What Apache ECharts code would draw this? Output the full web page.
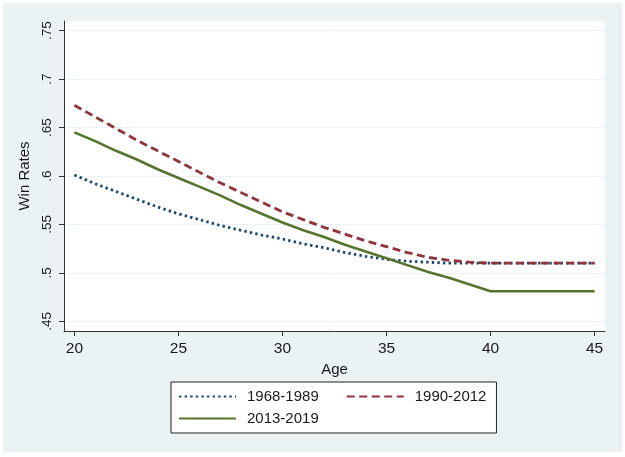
<!DOCTYPE html>
<html>
<head>
<meta charset="utf-8">
<script src="https://cdn.jsdelivr.net/npm/echarts@6/dist/echarts.min.js"></script>
<style>
  html, body { margin: 0; padding: 0; background: #fff; }
  #chart { width: 625px; height: 457px; }
</style>
</head>
<body>
<div id="chart"></div>
<script>
var ages = [20, 21, 22, 23, 24, 25, 26, 27, 28, 29, 30, 31, 32, 33, 34, 35, 36, 37, 38, 39, 40, 41, 42, 43, 44, 45];
var rates6889 = [0.601, 0.592, 0.584, 0.576, 0.568, 0.561, 0.555, 0.549, 0.544, 0.539, 0.535, 0.530, 0.526, 0.521, 0.517, 0.514, 0.512, 0.511, 0.510, 0.510, 0.510, 0.510, 0.510, 0.510, 0.510, 0.510];
var rates9012 = [0.673, 0.661, 0.649, 0.637, 0.626, 0.615, 0.604, 0.593, 0.583, 0.573, 0.563, 0.555, 0.547, 0.540, 0.533, 0.527, 0.521, 0.516, 0.513, 0.511, 0.510, 0.510, 0.510, 0.510, 0.510, 0.510];
var rates1319 = [0.645, 0.636, 0.626, 0.617, 0.607, 0.598, 0.589, 0.580, 0.570, 0.561, 0.552, 0.544, 0.537, 0.529, 0.522, 0.515, 0.508, 0.501, 0.495, 0.488, 0.481, 0.481, 0.481, 0.481, 0.481, 0.481];
var xTicks = [20, 25, 30, 35, 40, 45];
var yTicks = [0.45, 0.5, 0.55, 0.6, 0.65, 0.7, 0.75];

function pairs(vals) {
    return ages.map(function (a, i) { return [a, vals[i]]; });
}

var font = '"Liberation Sans", Arial, sans-serif';
var axisCol = '#333';
var txtCol = '#1a1a1a';

var myChart = echarts.init(document.getElementById('chart'));
myChart.setOption({
    animation: false,
    backgroundColor: '#fff',
    textStyle: { fontFamily: font },
    graphic: [{
        type: 'rect', z: -10, silent: true,
        shape: { x: 3, y: 3, width: 619, height: 449 },
        style: { fill: '#eaf2f3' }
    }],
    grid: {
        left: 64, right: 20, top: 21, bottom: 126,
        show: true, backgroundColor: '#fff', borderWidth: 0
    },
    xAxis: {
        type: 'value', min: 19.5, max: 45.5,
        name: 'Age', nameLocation: 'middle', nameGap: 25,
        nameTextStyle: { fontSize: 15, color: txtCol, fontFamily: font },
        axisLine: { lineStyle: { color: axisCol, width: 1 } },
        axisTick: { customValues: xTicks, length: 5, lineStyle: { color: axisCol } },
        axisLabel: { customValues: xTicks, margin: 10, fontSize: 15.5, color: txtCol, fontFamily: font },
        splitLine: { show: false }
    },
    yAxis: {
        type: 'value', min: 0.44, max: 0.76,
        name: 'Win Rates', nameLocation: 'middle', nameGap: 29, nameRotate: 90,
        nameTextStyle: { fontSize: 15, color: txtCol, fontFamily: font },
        axisLine: { show: true, lineStyle: { color: axisCol, width: 1 } },
        axisTick: { show: true, customValues: yTicks, length: 5, lineStyle: { color: axisCol } },
        axisLabel: {
            customValues: yTicks, rotate: 90, margin: 10, fontSize: 13.5, color: txtCol, fontFamily: font,
            formatter: function (v) { return String(+v.toFixed(2)).replace(/^0/, ''); }
        },
        splitLine: { show: true, lineStyle: { color: '#eaf2f3', width: 1 } }
    },
    legend: [{
        data: ['1968-1989', '1990-2012'],
        left: 171, top: 382, orient: 'horizontal',
        padding: [7, 10, 29, 7],
        itemWidth: 57, itemHeight: 14, itemGap: 27,
        itemStyle: { opacity: 0 },
        backgroundColor: '#fff', borderColor: '#222', borderWidth: 1,
        textStyle: { fontSize: 15, color: txtCol, fontFamily: font, padding: [0, 0, 0, 6] }
    }, {
        data: ['2013-2019'],
        left: 178, top: 411, padding: 0,
        itemWidth: 57, itemHeight: 14,
        itemStyle: { opacity: 0 },
        textStyle: { fontSize: 15, color: txtCol, fontFamily: font, padding: [0, 0, 0, 6] }
    }],
    series: [{
        name: '1968-1989', type: 'line', symbol: 'none', data: pairs(rates6889),
        lineStyle: { color: '#1a476f', width: 2.8, type: [2.4, 3.2] },
        itemStyle: { color: '#1a476f' }
    }, {
        name: '1990-2012', type: 'line', symbol: 'none', data: pairs(rates9012),
        lineStyle: { color: '#90353b', width: 2.8, type: [8, 4.5] },
        itemStyle: { color: '#90353b' }
    }, {
        name: '2013-2019', type: 'line', symbol: 'none', data: pairs(rates1319),
        lineStyle: { color: '#55752f', width: 2.6 },
        itemStyle: { color: '#55752f' }
    }]
});
window.addEventListener('resize', function () { myChart.resize(); });
</script>
</body>
</html>
